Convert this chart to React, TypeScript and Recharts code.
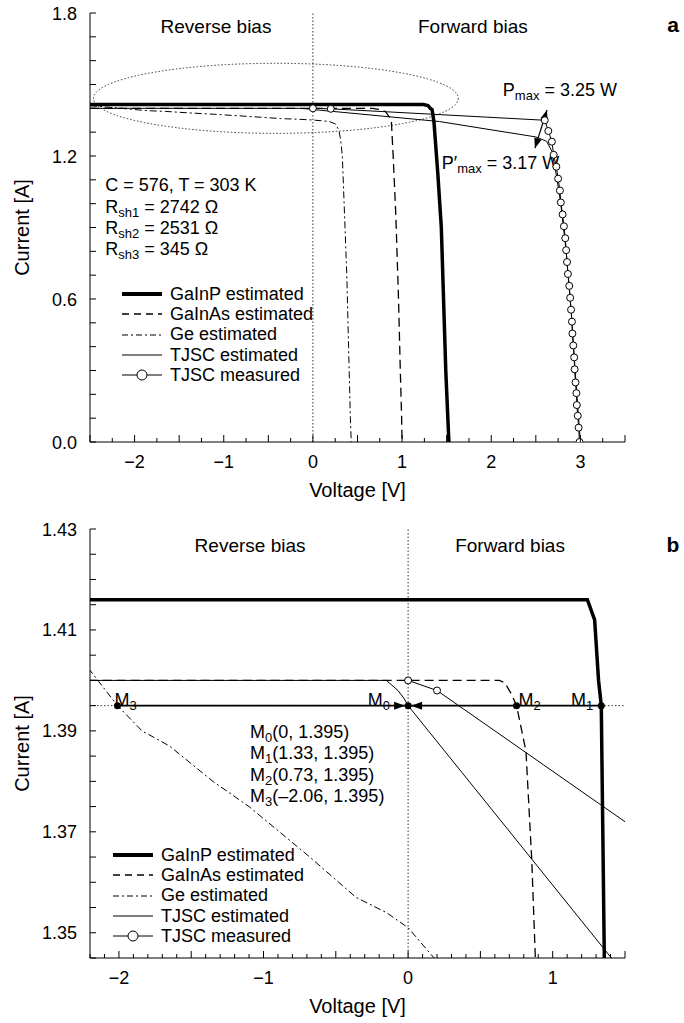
import {
  ComposedChart,
  Line,
  Scatter,
  XAxis,
  YAxis,
  ReferenceLine,
  ReferenceArea,
  ReferenceDot,
  Legend,
} from "recharts";

const FONT = "'Liberation Sans', Arial, Helvetica, sans-serif";

type Pt = { x: number; y: number };

// I-V curves (V, A). Panel b shows the same curves zoomed in.
const GAINP: Pt[] = [
  { x: -2.5, y: 1.416 }, { x: 1.24, y: 1.416 }, { x: 1.29, y: 1.412 }, { x: 1.317, y: 1.4 },
  { x: 1.336, y: 1.395 }, { x: 1.357, y: 1.345 }, { x: 1.4, y: 1.13 }, { x: 1.44, y: 0.9 },
  { x: 1.49, y: 0.3 }, { x: 1.525, y: 0 },
];
const GAINAS: Pt[] = [
  { x: -2.5, y: 1.4 }, { x: 0.63, y: 1.4 }, { x: 0.67, y: 1.3995 }, { x: 0.72, y: 1.397 },
  { x: 0.75, y: 1.395 }, { x: 0.815, y: 1.386 }, { x: 0.855, y: 1.3645 }, { x: 0.88, y: 1.345 },
  { x: 0.9, y: 1.2 }, { x: 0.93, y: 0.95 }, { x: 0.96, y: 0.6 }, { x: 0.98, y: 0.3 },
  { x: 0.995, y: 0.1 }, { x: 1.0, y: 0 },
];
const GE: Pt[] = [
  { x: -2.5, y: 1.411 }, { x: -2.2, y: 1.402 }, { x: -2.01, y: 1.395 }, { x: -1.84, y: 1.39 },
  { x: -1.65, y: 1.387 }, { x: -1.35, y: 1.38 }, { x: -1.1, y: 1.375 }, { x: -0.89, y: 1.37 },
  { x: -0.68, y: 1.365 }, { x: -0.36, y: 1.357 }, { x: -0.15, y: 1.354 }, { x: 0, y: 1.351 },
  { x: 0.18, y: 1.345 }, { x: 0.25, y: 1.335 }, { x: 0.29, y: 1.31 }, { x: 0.31, y: 1.27 },
  { x: 0.33, y: 1.2 }, { x: 0.35, y: 1.0 }, { x: 0.38, y: 0.7 }, { x: 0.4, y: 0.4 },
  { x: 0.42, y: 0.1 }, { x: 0.43, y: 0 },
];
const TJSC_EST: Pt[] = [
  { x: -2.5, y: 1.4 }, { x: -0.15, y: 1.4 }, { x: -0.07, y: 1.398 }, { x: -0.03, y: 1.3965 },
  { x: 0, y: 1.395 }, { x: 1.42, y: 1.3445 }, { x: 2.5, y: 1.28 }, { x: 2.62, y: 1.262 },
  { x: 2.68, y: 1.22 }, { x: 2.73, y: 1.12 }, { x: 2.78, y: 1.0 }, { x: 2.84, y: 0.8 },
  { x: 2.9, y: 0.53 }, { x: 2.95, y: 0.25 }, { x: 3.0, y: 0 },
];
const TJSC_MEAS: Pt[] = [
  { x: 0, y: 1.4 }, { x: 0.2, y: 1.398 }, { x: 2.6, y: 1.35 }, { x: 2.64, y: 1.305 },
  { x: 2.68, y: 1.26 }, { x: 2.7, y: 1.205 }, { x: 2.73, y: 1.155 }, { x: 2.75, y: 1.105 },
  { x: 2.77, y: 1.055 }, { x: 2.78, y: 1.005 }, { x: 2.8, y: 0.955 }, { x: 2.815, y: 0.905 },
  { x: 2.83, y: 0.855 }, { x: 2.84, y: 0.805 }, { x: 2.85, y: 0.755 }, { x: 2.86, y: 0.705 },
  { x: 2.875, y: 0.655 }, { x: 2.885, y: 0.605 }, { x: 2.895, y: 0.555 }, { x: 2.905, y: 0.505 },
  { x: 2.91, y: 0.455 }, { x: 2.92, y: 0.405 }, { x: 2.93, y: 0.355 }, { x: 2.935, y: 0.305 },
  { x: 2.945, y: 0.25 }, { x: 2.955, y: 0.205 }, { x: 2.96, y: 0.155 }, { x: 2.97, y: 0.11 },
  { x: 2.98, y: 0.06 }, { x: 2.99, y: 0 },
];

// operating points M0..M3 of panel b
const M_POINTS: Pt[] = [
  { x: 0, y: 1.395 }, { x: 1.336, y: 1.395 }, { x: 0.75, y: 1.395 }, { x: -2.01, y: 1.395 },
];
const M_TEXT = ["(0, 1.395)", "(1.33, 1.395)", "(0.73, 1.395)", "(\u20132.06, 1.395)"];

const LEGEND_NAMES = ["GaInP estimated", "GaInAs estimated", "Ge estimated", "TJSC estimated", "TJSC measured"];
const RSH_VALUES = ["2742", "2531", "345"];

const X_DOMAIN_A: [number, number] = [-2.5, 3.5];
const Y_DOMAIN_A: [number, number] = [0, 1.8];
const X_LABELS_A = [-2, -1, 0, 1, 2, 3];
const Y_LABELS_A = [0, 0.6, 1.2, 1.8];

const X_DOMAIN_B: [number, number] = [-2.2, 1.5];
const Y_DOMAIN_B: [number, number] = [1.345, 1.43];
const X_LABELS_B = [-2, -1, 0, 1];
const Y_LABELS_B = [1.35, 1.37, 1.39, 1.41, 1.43];

const steps = (a: number, b: number, s: number) => {
  const n = Math.round((b - a) / s);
  const out: number[] = [];
  for (let i = 0; i <= n; i++) out.push(+(a + i * s).toFixed(4));
  return out;
};

const X_TICKS_A = steps(-2.5, 3.5, 0.25);
const Y_TICKS_A = steps(0, 1.8, 0.1);
const X_TICKS_B = steps(-2.2, 1.5, 0.1);
const Y_TICKS_B = steps(1.345, 1.43, 0.005);

const near = (a: number, b: number) => Math.abs(a - b) < 1e-6;
const fmt = (v: number, d: number) => v.toFixed(d).replace("-", "\u2212");

type Side = "bottom" | "top" | "left" | "right";

// inward tick marks, labels outside only on the bottom/left axes
function makeTick(side: Side, labels: number[], digits: number, major: number) {
  return (props: any) => {
    const { x, y, payload } = props;
    const v = payload.value as number;
    const isMajor = near(v / major, Math.round(v / major));
    const len = side === "left" || side === "right" ? 6 : isMajor ? 7 : 4;
    const hasLabel = labels.some((l) => near(l, v));
    let line;
    if (side === "bottom") line = <line x1={x} y1={y} x2={x} y2={y - len} />;
    else if (side === "top") line = <line x1={x} y1={y} x2={x} y2={y + len} />;
    else if (side === "left") line = <line x1={x} y1={y} x2={x + len} y2={y} />;
    else line = <line x1={x} y1={y} x2={x - len} y2={y} />;
    return (
      <g>
        <g stroke="#000" strokeWidth={1}>{line}</g>
        {hasLabel && side === "bottom" && (
          <text x={x} y={y + 26} textAnchor="middle" fontSize={18} fontFamily={FONT} fill="#000">
            {fmt(v, digits)}
          </text>
        )}
        {hasLabel && side === "left" && (
          <text x={x - 13} y={y + 6.5} textAnchor="end" fontSize={18} fontFamily={FONT} fill="#000">
            {fmt(v, digits)}
          </text>
        )}
      </g>
    );
  };
}

const yTitle = (p: any) => {
  const vb = p.viewBox;
  const cx = vb.x + 22;
  const cy = vb.y + vb.height / 2;
  return (
    <text x={cx} y={cy} transform={`rotate(-90 ${cx} ${cy})`} textAnchor="middle" dominantBaseline="central"
      fontSize={20} fontFamily={FONT} fill="#000">
      Current [A]
    </text>
  );
};

const xTitle = (p: any) => {
  const vb = p.viewBox;
  return (
    <text x={vb.x + vb.width / 2} y={vb.y + 55} textAnchor="middle" fontSize={20} fontFamily={FONT} fill="#000">
      Voltage [V]
    </text>
  );
};

function axes(xd: [number, number], yd: [number, number], xt: number[], yt: number[],
  xl: number[], yl: number[], yDigits: number, xHeight: number) {
  const common = { type: "number" as const, interval: 0 as const, tickLine: false, tickSize: 0, tickMargin: 0,
    allowDataOverflow: true, axisLine: { stroke: "#000", strokeWidth: 1 } };
  return [
    <XAxis key="xb" dataKey="x" domain={xd} ticks={xt} height={xHeight} tick={makeTick("bottom", xl, 0, 0.5)}
      label={xTitle} {...common} />,
    <XAxis key="xt" xAxisId="t" orientation="top" domain={xd} ticks={xt} height={0}
      tick={makeTick("top", [], 0, 0.5)} {...common} />,
    <YAxis key="yl" dataKey="y" domain={yd} ticks={yt} width={90} tick={makeTick("left", yl, yDigits, 1)}
      label={yTitle} {...common} />,
    <YAxis key="yr" yAxisId="r" orientation="right" domain={yd} ticks={yt} width={0}
      tick={makeTick("right", [], yDigits, 1)} {...common} />,
  ];
}

function series() {
  return [
    <Line key="gainp" name={LEGEND_NAMES[0]} data={GAINP} dataKey="y" type="linear" stroke="#000"
      strokeWidth={3.5} dot={false} isAnimationActive={false} />,
    <Line key="gainas" name={LEGEND_NAMES[1]} data={GAINAS} dataKey="y" type="linear" stroke="#000"
      strokeWidth={1.3} strokeDasharray="9 5" dot={false} isAnimationActive={false} />,
    <Line key="ge" name={LEGEND_NAMES[2]} data={GE} dataKey="y" type="linear" stroke="#000"
      strokeWidth={1} strokeDasharray="7 3 2 3" dot={false} isAnimationActive={false} />,
    <Line key="est" name={LEGEND_NAMES[3]} data={TJSC_EST} dataKey="y" type="linear" stroke="#000"
      strokeWidth={1} dot={false} isAnimationActive={false} />,
    <Line key="meas" name={LEGEND_NAMES[4]} data={TJSC_MEAS} dataKey="y" type="linear" stroke="#000"
      strokeWidth={1} dot={{ r: 3.5, fill: "#fff", stroke: "#000", strokeWidth: 1 }}
      isAnimationActive={false} />,
  ];
}

const LEGEND_ICONS = [
  { w: 4, dash: undefined, circle: false },
  { w: 1.3, dash: "7 5", circle: false },
  { w: 1.2, dash: "6 3 2 3", circle: false },
  { w: 1, dash: undefined, circle: false },
  { w: 1, dash: undefined, circle: true },
];

const renderLegend = () => (
  <div style={{ fontFamily: FONT, fontSize: 18, color: "#000" }}>
    {LEGEND_NAMES.map((n, i) => (
      <div key={n} style={{ display: "flex", alignItems: "center", height: 20.3, whiteSpace: "nowrap" }}>
        <svg width={40} height={14} style={{ flex: "none" }}>
          <line x1={0} x2={40} y1={7} y2={7} stroke="#000" strokeWidth={LEGEND_ICONS[i].w}
            strokeDasharray={LEGEND_ICONS[i].dash} />
          {LEGEND_ICONS[i].circle && <circle cx={20} cy={7} r={5} fill="#fff" stroke="#000" />}
        </svg>
        <span style={{ marginLeft: 8 }}>{n}</span>
      </div>
    ))}
  </div>
);

const txt = (s: string, anchor: "start" | "middle" | "end" = "start", size = 18) => (p: any) => (
  <text x={p.cx} y={p.cy} textAnchor={anchor} dominantBaseline="central" fontSize={size}
    fontFamily={FONT} fill="#000">{s}</text>
);

const sub = (main: string, s: string, rest: string, anchor: "start" | "end" = "start", dx = 0, dy = 0) =>
  (p: any) => (
    <text x={p.cx + dx} y={p.cy + dy} textAnchor={anchor} fontSize={18} fontFamily={FONT} fill="#000">
      {main}
      <tspan fontSize={13} dy={4}>{s}</tspan>
      <tspan dy={-4}>{rest}</tspan>
    </text>
  );

const ellipse = (p: any) => (
  <ellipse cx={p.x + p.width / 2} cy={p.y + p.height / 2} rx={p.width / 2} ry={p.height / 2}
    fill="none" stroke="#333" strokeWidth={1} strokeDasharray="1.5 2" />
);

const head = (tx: number, ty: number, fx: number, fy: number, L = 10, w = 3.8) => {
  const d = Math.hypot(tx - fx, ty - fy) || 1;
  const ux = (tx - fx) / d;
  const uy = (ty - fy) / d;
  const bx = tx - ux * L;
  const by = ty - uy * L;
  return `M${tx},${ty} L${bx - uy * w},${by + ux * w} L${bx + uy * w},${by - ux * w} Z`;
};

const doubleArrow = (p: any) => (
  <g>
    <line x1={p.x1} y1={p.y1} x2={p.x2} y2={p.y2} stroke="#000" strokeWidth={1.2} />
    <path d={head(p.x1, p.y1, p.x2, p.y2)} fill="#000" />
    <path d={head(p.x2, p.y2, p.x1, p.y1)} fill="#000" />
  </g>
);

// arrow pointing at the end point (x2, y2), tip kept just off the marker
const arrowTo = (p: any) => {
  const d = Math.hypot(p.x2 - p.x1, p.y2 - p.y1) || 1;
  const tx = p.x2 - ((p.x2 - p.x1) / d) * 3;
  const ty = p.y2 - ((p.y2 - p.y1) / d) * 3;
  return (
    <g>
      <line x1={p.x1} y1={p.y1} x2={tx} y2={ty} stroke="#000" strokeWidth={1.6} />
      <path d={head(tx, ty, p.x1, p.y1, 11, 4)} fill="#000" />
    </g>
  );
};

const dotShape = (p: any) => <circle cx={p.cx} cy={p.cy} r={3.5} fill="#000" />;

function PanelA() {
  return (
    <ComposedChart width={684} height={510} margin={{ top: 13, right: 59, bottom: 0, left: 0 }}>
      {axes(X_DOMAIN_A, Y_DOMAIN_A, X_TICKS_A, Y_TICKS_A, X_LABELS_A, Y_LABELS_A, 1, 68)}
      <ReferenceArea x1={-2.46} x2={1.63} y1={1.295} y2={1.589} shape={ellipse} />
      <ReferenceLine x={0} stroke="#000" strokeWidth={0.8} strokeDasharray="1.5 2" />
      {series()}
      <ReferenceLine segment={[{ x: 2.49, y: 1.233 }, { x: 2.625, y: 1.393 }]} shape={doubleArrow} />
      <ReferenceDot x={-1.087} y={1.7426} r={0} shape={txt("Reverse bias", "middle", 19)} />
      <ReferenceDot x={1.794} y={1.7426} r={0} shape={txt("Forward bias", "middle", 19)} />
      <ReferenceDot x={-2.33} y={1.078} r={0} shape={txt("C = 576, T = 303 K")} />
      {RSH_VALUES.map((v, i) => (
        <ReferenceDot key={v} x={-2.33} y={1.078} r={0}
          shape={sub("R", `sh${i + 1}`, ` = ${v} \u03a9`, "start", 0, 6.5 + 21 * (i + 1))} />
      ))}
      <ReferenceDot x={2.13} y={1.477} r={0} shape={sub("P", "max", " = 3.25 W", "start", 0, 6.5)} />
      <ReferenceDot x={1.446} y={1.171} r={0} shape={sub("P\u2032", "max", " = 3.17 W", "start", 0, 6.5)} />
      <Legend content={renderLegend} layout="vertical" align="center" verticalAlign="middle"
        wrapperStyle={{ left: 122, top: 284, width: 250, height: 102 }} />
      <text x={673} y={32} textAnchor="middle" fontSize={21} fontWeight="bold" fontFamily={FONT}>a</text>
    </ComposedChart>
  );
}

function PanelB() {
  return (
    <ComposedChart width={684} height={513} margin={{ top: 19, right: 59, bottom: 0, left: 0 }}>
      {axes(X_DOMAIN_B, Y_DOMAIN_B, X_TICKS_B, Y_TICKS_B, X_LABELS_B, Y_LABELS_B, 2, 65)}
      <ReferenceLine x={0} stroke="#000" strokeWidth={0.8} strokeDasharray="1.5 2" />
      <ReferenceLine y={1.395} stroke="#000" strokeWidth={0.8} strokeDasharray="1.5 2" />
      {series()}
      <ReferenceLine segment={[M_POINTS[3], M_POINTS[0]]} shape={arrowTo} />
      <ReferenceLine segment={[M_POINTS[1], M_POINTS[0]]} shape={arrowTo} />
      <Scatter data={M_POINTS} dataKey="y" shape={dotShape} legendType="none" isAnimationActive={false} />
      <ReferenceDot {...M_POINTS[3]} r={0} shape={sub("M", "3", "", "start", -3, 0)} />
      <ReferenceDot {...M_POINTS[0]} r={0} shape={sub("M", "0", "", "end", -18, 0)} />
      <ReferenceDot {...M_POINTS[2]} r={0} shape={sub("M", "2", "", "start", 2, 0)} />
      <ReferenceDot {...M_POINTS[1]} r={0} shape={sub("M", "1", "", "end", -8, 0)} />
      {M_TEXT.map((t, i) => (
        <ReferenceDot key={t} x={-1.093} y={1.3898} r={0}
          shape={sub("M", String(i), t, "start", 0, 6.5 + 21.1 * i)} />
      ))}
      <ReferenceDot x={-1.093} y={1.4268} r={0} shape={txt("Reverse bias", "middle", 19)} />
      <ReferenceDot x={0.705} y={1.4268} r={0} shape={txt("Forward bias", "middle", 19)} />
      <Legend content={renderLegend} layout="vertical" align="center" verticalAlign="middle"
        wrapperStyle={{ left: 113, top: 335, width: 250, height: 102 }} />
      <text x={673} y={42} textAnchor="middle" fontSize={21} fontWeight="bold" fontFamily={FONT}>b</text>
    </ComposedChart>
  );
}

export default function App() {
  return (
    <div style={{ position: "absolute", left: 0, top: 0, width: 684, height: 1023, background: "#fff" }}>
      <PanelA />
      <PanelB />
    </div>
  );
}
